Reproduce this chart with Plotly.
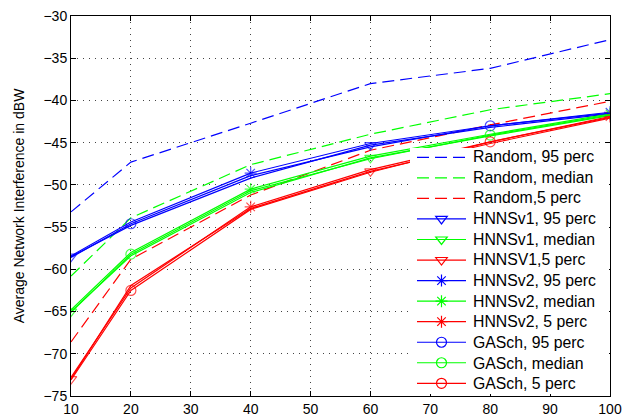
import plotly.graph_objects as go

# Number of users (x axis)
x_users = [10, 20, 40, 60, 80, 100]

# Random scheduling, interference percentiles (dBW)
random_95 = [-53.2, -47.3, -42.7, -38.0, -36.2, -32.8]
random_med = [-60.8, -53.9, -47.6, -44.0, -41.1, -39.2]
random_5 = [-68.6, -58.8, -51.2, -45.9, -42.9, -40.1]

# HNNS version 1
hnnsv1_95 = [-58.5, -54.8, -49.2, -45.3, -43.2, -41.6]
hnnsv1_med = [-65.0, -58.4, -50.9, -46.8, -44.2, -41.8]
hnnsv1_5 = [-73.0, -61.9, -52.8, -48.4, -45.1, -42.1]

# HNNS version 2
hnnsv2_95 = [-58.4, -54.4, -48.6, -45.1, -43.0, -41.4]
hnnsv2_med = [-64.8, -58.0, -50.5, -46.6, -44.0, -41.6]
hnnsv2_5 = [-72.8, -62.2, -52.6, -48.2, -44.9, -41.9]

# Genetic-algorithm scheduler
gasch_95 = [-58.6, -54.6, -48.9, -45.5, -43.0, -41.5]
gasch_med = [-65.1, -58.2, -50.7, -46.9, -44.1, -41.7]
gasch_5 = [-73.1, -62.5, -52.9, -48.5, -44.9, -42.0]

x_ticks = [10, 20, 30, 40, 50, 60, 70, 80, 90, 100]
y_ticks = [-75, -70, -65, -60, -55, -50, -45, -40, -35, -30]

BLUE, GREEN, RED = "#0000ff", "#00ff00", "#ff0000"
FONT = "Liberation Sans, Arial, sans-serif"
MS = 10
LW = 1.2

# each algorithm shows its markers on a different subset of points
mask_v1 = [1, 0, 0, 1, 0, 0]
mask_v2 = [0, 0, 1, 0, 0, 1]
mask_ga = [0, 1, 0, 0, 1, 0]

fig = go.Figure()
legend_names = []

def legend_entry(name, color, dash, symbol=None):
    # empty trace providing the legend sample; its label is an annotation
    legend_names.append(name)
    fig.add_trace(go.Scatter(
        x=[None], y=[None], name=" ",
        mode="lines+markers" if symbol else "lines",
        line=dict(color=color, width=LW, dash=dash),
        marker=dict(symbol=symbol or "circle", size=MS, color=color,
                    line=dict(color=color, width=1.2)),
    ))

def dashed(name, y, color):
    fig.add_trace(go.Scatter(
        x=x_users, y=y, name=name, mode="lines", showlegend=False,
        line=dict(color=color, width=LW, dash="12px,6px"),
    ))
    legend_entry(name, color, "12px,6px")

def marked(name, y, color, symbol, mask):
    fig.add_trace(go.Scatter(
        x=x_users, y=y, name=name, mode="lines+markers", showlegend=False,
        line=dict(color=color, width=LW),
        marker=dict(symbol=symbol, size=[MS * m for m in mask], color=color,
                    line=dict(color=color, width=1.2)),
    ))
    legend_entry(name, color, "solid", symbol)

dashed("Random, 95 perc", random_95, BLUE)
dashed("Random, median", random_med, GREEN)
dashed("Random,5 perc", random_5, RED)
marked("HNNSv1, 95 perc", hnnsv1_95, BLUE, "triangle-down-open", mask_v1)
marked("HNNSv1, median", hnnsv1_med, GREEN, "triangle-down-open", mask_v1)
marked("HNNSV1,5 perc", hnnsv1_5, RED, "triangle-down-open", mask_v1)
marked("HNNSv2, 95 perc", hnnsv2_95, BLUE, "asterisk-open", mask_v2)
marked("HNNSv2, median", hnnsv2_med, GREEN, "asterisk-open", mask_v2)
marked("HNNSv2, 5 perc", hnnsv2_5, RED, "asterisk-open", mask_v2)
marked("GASch, 95 perc", gasch_95, BLUE, "circle-open", mask_ga)
marked("GASch, median", gasch_med, GREEN, "circle-open", mask_ga)
marked("GASch, 5 perc", gasch_5, RED, "circle-open", mask_ga)

# legend labels, one per row of legend samples
ROW0, ROW_STEP = 156.5, 20.65
legend_labels = [
    dict(text=name, xref="paper", yref="paper", showarrow=False,
         x=(471 - 71) / 539, y=(396 - (ROW0 + i * ROW_STEP)) / 380,
         xanchor="left", yanchor="middle",
         font=dict(family=FONT, size=15.8, color="black"))
    for i, name in enumerate(legend_names)
]

axis_common = dict(
    showline=True, linecolor="black", linewidth=1, mirror="ticks",
    ticks="inside", ticklen=5, tickcolor="black", automargin=False,
    showgrid=True, gridcolor="#444444", griddash="1px,5px", gridwidth=1,
    zeroline=False, tickfont=dict(family=FONT, size=14, color="black"),
)

fig.update_layout(
    width=624, height=419,
    margin=dict(l=71, r=14, t=16, b=23, autoexpand=False),
    paper_bgcolor="white", plot_bgcolor="white",
    font=dict(family=FONT, size=14, color="black"),
    xaxis=dict(range=[10, 100], tickvals=x_ticks, **axis_common),
    yaxis=dict(range=[-75, -30], tickvals=y_ticks,
               title=dict(text="Average Network Interference in dBW",
                          font=dict(family=FONT, size=14), standoff=15),
               **axis_common),
    legend=dict(
        x=(412 - 71) / 539, y=(396 - 142) / 380, xanchor="left", yanchor="top",
        bgcolor="rgba(0,0,0,0)", borderwidth=0, itemwidth=49,
        font=dict(family=FONT, size=13.5, color="black"), tracegroupgap=0,
    ),
    annotations=legend_labels,
    shapes=[dict(
        type="rect", xref="paper", yref="paper", layer="above",
        x0=(410 - 71) / 539, x1=(609 - 71) / 539,
        y0=(396 - 394) / 380, y1=(396 - 148) / 380,
        fillcolor="white", line=dict(width=0),
    )],
)

fig.write_html("out.html")
